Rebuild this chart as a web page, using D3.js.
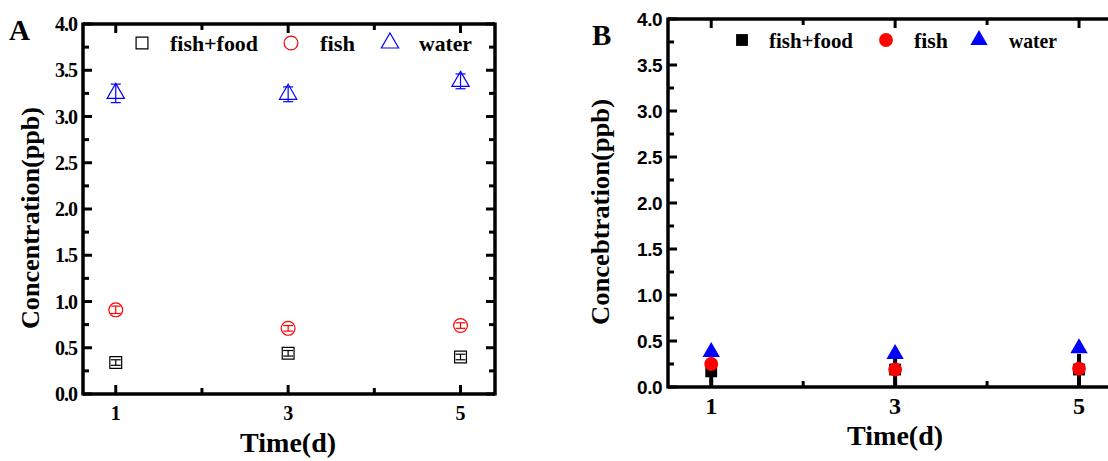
<!DOCTYPE html>
<html>
<head>
<meta charset="utf-8">
<script src="https://cdn.jsdelivr.net/npm/d3@7"></script>
<style>
  html, body { margin: 0; padding: 0; background: #fff; }
  svg { display: block; }
</style>
</head>
<body>
<div id="chart"></div>
<script>
// ==== Dữ liệu ====
const days = [1, 3, 5];
const seriesNames = ["fish+food", "fish", "water"];
const seriesColors = ["#000000", "#ff0000", "#0000ff"];
const yTicks = [0, 0.5, 1.0, 1.5, 2.0, 2.5, 3.0, 3.5, 4.0];

// Panel A (mean, sai số)
const aFishFood = [0.34, 0.44, 0.40];
const aFishFoodErr = [0.03, 0.03, 0.03];
const aFish = [0.91, 0.71, 0.74];
const aFishErr = [0.04, 0.03, 0.03];
const aWater = [3.25, 3.24, 3.38];
const aWaterErr = [0.10, 0.08, 0.08];

// Panel B
const bFishFood = [0.17, 0.19, 0.19];
const bFishFoodErr = [0.15, 0.17, 0.17];
const bFish = [0.25, 0.19, 0.20];
const bFishErr = [0.02, 0.02, 0.02];
const bWater = [0.38, 0.36, 0.42];
const bWaterErr = [0.02, 0.02, 0.02];

const W = 1108, H = 461;
const svg = d3.select("#chart").append("svg").attr("width", W).attr("height", H);

const serif = "'Liberation Serif','Times New Roman',serif";
const sans = "'Liberation Sans',Arial,sans-serif";

function drawPanel(cfg) {
  const x = d3.scaleLinear().domain(cfg.xDomain).range([cfg.left, cfg.right]);
  const y = d3.scaleLinear().domain([0, 4]).range([cfg.bottom, cfg.top]);
  const g = svg.append("g");

  const minorY = d3.range(0.25, 4, 0.5);
  const minorX = [2, 4];

  // ticks trái/phải (hướng vào trong)
  const tickG = g.append("g").attr("stroke", "#000").attr("stroke-width", 3);
  yTicks.forEach(v => {
    tickG.append("line").attr("x1", cfg.left).attr("x2", cfg.left + 9).attr("y1", y(v)).attr("y2", y(v));
    if (cfg.rightAxis) tickG.append("line").attr("x1", cfg.right).attr("x2", cfg.right - 9).attr("y1", y(v)).attr("y2", y(v));
  });
  minorY.forEach(v => {
    tickG.append("line").attr("x1", cfg.left).attr("x2", cfg.left + 6).attr("y1", y(v)).attr("y2", y(v));
    if (cfg.rightAxis) tickG.append("line").attr("x1", cfg.right).attr("x2", cfg.right - 6).attr("y1", y(v)).attr("y2", y(v));
  });
  days.forEach(v => {
    tickG.append("line").attr("x1", x(v)).attr("x2", x(v)).attr("y1", cfg.bottom).attr("y2", cfg.bottom - 9);
    tickG.append("line").attr("x1", x(v)).attr("x2", x(v)).attr("y1", cfg.top).attr("y2", cfg.top + 9);
  });
  minorX.forEach(v => {
    tickG.append("line").attr("x1", x(v)).attr("x2", x(v)).attr("y1", cfg.bottom).attr("y2", cfg.bottom - 6);
    tickG.append("line").attr("x1", x(v)).attr("x2", x(v)).attr("y1", cfg.top).attr("y2", cfg.top + 6);
  });

  // khung
  const frame = g.append("g").attr("stroke", "#000").attr("stroke-width", 3.5).attr("fill", "none");
  frame.append("line").attr("x1", cfg.left).attr("x2", cfg.left).attr("y1", cfg.top - 1.5).attr("y2", cfg.bottom + 1.5);
  frame.append("line").attr("x1", cfg.left).attr("x2", cfg.right).attr("y1", cfg.bottom).attr("y2", cfg.bottom);
  frame.append("line").attr("x1", cfg.left).attr("x2", cfg.right).attr("y1", cfg.top).attr("y2", cfg.top);
  if (cfg.rightAxis) frame.append("line").attr("x1", cfg.right).attr("x2", cfg.right).attr("y1", cfg.top - 1.5).attr("y2", cfg.bottom + 1.5);

  // nhãn trục y
  g.selectAll(".ytl").data(yTicks).enter().append("text")
    .attr("x", cfg.left - 6).attr("y", d => y(d))
    .attr("dy", "0.35em").attr("text-anchor", "end")
    .style("font-family", cfg.yTickFont).style("font-weight", "bold")
    .style("font-size", cfg.yTickSize + "px")
    .style("letter-spacing", cfg.yTickSpacing)
    .text(d => d3.format(".1f")(d));

  // nhãn trục x
  g.selectAll(".xtl").data(days).enter().append("text")
    .attr("x", d => x(d)).attr("y", cfg.xTickY)
    .attr("dy", "0.35em").attr("text-anchor", "middle")
    .style("font-family", serif).style("font-weight", "bold")
    .style("font-size", cfg.xTickSize + "px")
    .text(d => d);

  // tiêu đề trục
  g.append("text")
    .attr("x", (x(1) + x(5)) / 2).attr("y", cfg.xTitleY)
    .attr("dy", "0.35em").attr("text-anchor", "middle")
    .style("font-family", serif).style("font-weight", "bold").style("font-size", "27px")
    .attr("textLength", 96).attr("lengthAdjust", "spacingAndGlyphs")
    .text("Time(d)");
  g.append("text")
    .attr("transform", `translate(${cfg.yTitleX},${cfg.yTitleY}) rotate(-90)`)
    .attr("dy", "0.35em").attr("text-anchor", "middle")
    .style("font-family", serif).style("font-weight", "bold").style("font-size", "26px")
    .attr("textLength", cfg.yTitleLen).attr("lengthAdjust", "spacingAndGlyphs")
    .text(cfg.yTitle);

  // chữ A / B
  g.append("text")
    .attr("x", cfg.letterX).attr("y", cfg.letterY)
    .style("font-family", serif).style("font-weight", "bold").style("font-size", "29px")
    .text(cfg.letter);

  // dữ liệu
  const series = cfg.series;
  const symbols = [d3.symbolSquare, d3.symbolCircle, d3.symbolTriangle];
  const sizes = [140, 150, 130];

  series.forEach((s, i) => {
    const col = seriesColors[i];
    const sg = g.append("g");
    // error bars
    days.forEach((d, k) => {
      const cx = x(d);
      const lo = y(s.v[k] - s.e[k]), hi = y(s.v[k] + s.e[k]);
      sg.append("line").attr("x1", cx).attr("x2", cx).attr("y1", lo).attr("y2", hi)
        .attr("stroke", cfg.filled ? "#000" : col).attr("stroke-width", cfg.filled ? 4 : 1.2);
      [lo, hi].forEach(yy => {
        sg.append("line").attr("x1", cx - 5).attr("x2", cx + 5).attr("y1", yy).attr("y2", yy)
          .attr("stroke", cfg.filled ? "#000" : col).attr("stroke-width", cfg.filled ? 0 : 1.2);
      });
    });
    sg.selectAll("path").data(days).enter().append("path")
      .attr("transform", (d, k) => `translate(${x(d)},${y(s.v[k])})`)
      .attr("d", d3.symbol().type(symbols[i]).size(sizes[i]))
      .attr("fill", cfg.filled ? col : "none")
      .attr("stroke", cfg.filled ? "none" : col)
      .attr("stroke-width", 1.2);
  });

  // legend
  const lg = g.append("g");
  cfg.legend.forEach((L, i) => {
    lg.append("path")
      .attr("transform", `translate(${L.mx},${cfg.legendY})`)
      .attr("d", d3.symbol().type(symbols[i]).size(sizes[i]))
      .attr("fill", cfg.filled ? seriesColors[i] : "none")
      .attr("stroke", cfg.filled ? "none" : seriesColors[i])
      .attr("stroke-width", 1.2);
    lg.append("text")
      .attr("x", L.tx).attr("y", cfg.legendY).attr("dy", "0.35em")
      .style("font-family", serif).style("font-weight", "bold").style("font-size", "22px")
      .attr("textLength", L.tw).attr("lengthAdjust", "spacingAndGlyphs")
      .text(seriesNames[i]);
  });
}

drawPanel({
  letter: "A", letterX: 9, letterY: 40,
  left: 83, right: 495, top: 24, bottom: 394,
  xDomain: [0.62, 5.4], rightAxis: true, filled: false,
  yTickFont: serif, yTickSize: 20, yTickSpacing: "-1px",
  xTickSize: 20, xTickY: 413, xTitleY: 443,
  yTitle: "Concentration(ppb)", yTitleX: 30, yTitleY: 218, yTitleLen: 222,
  legendY: 43,
  legend: [{ mx: 142, tx: 170, tw: 88 }, { mx: 291, tx: 320, tw: 35 }, { mx: 390, tx: 419, tw: 53 }],
  series: [
    { v: aFishFood, e: aFishFoodErr },
    { v: aFish, e: aFishErr },
    { v: aWater, e: aWaterErr }
  ]
});

drawPanel({
  letter: "B", letterX: 592, letterY: 45,
  left: 668, right: 1125, top: 19, bottom: 387,
  xDomain: [0.53, 5.5], rightAxis: true, filled: true,
  yTickFont: sans, yTickSize: 19, yTickSpacing: "-0.5px",
  xTickSize: 24, xTickY: 406, xTitleY: 436,
  yTitle: "Concebtration(ppb)", yTitleX: 600, yTitleY: 212, yTitleLen: 226,
  legendY: 40,
  legend: [{ mx: 742, tx: 769, tw: 84 }, { mx: 886, tx: 914, tw: 34 }, { mx: 979, tx: 1009, tw: 48 }],
  series: [
    { v: bFishFood, e: bFishFoodErr },
    { v: bFish, e: bFishErr },
    { v: bWater, e: bWaterErr }
  ]
});
</script>
</body>
</html>
